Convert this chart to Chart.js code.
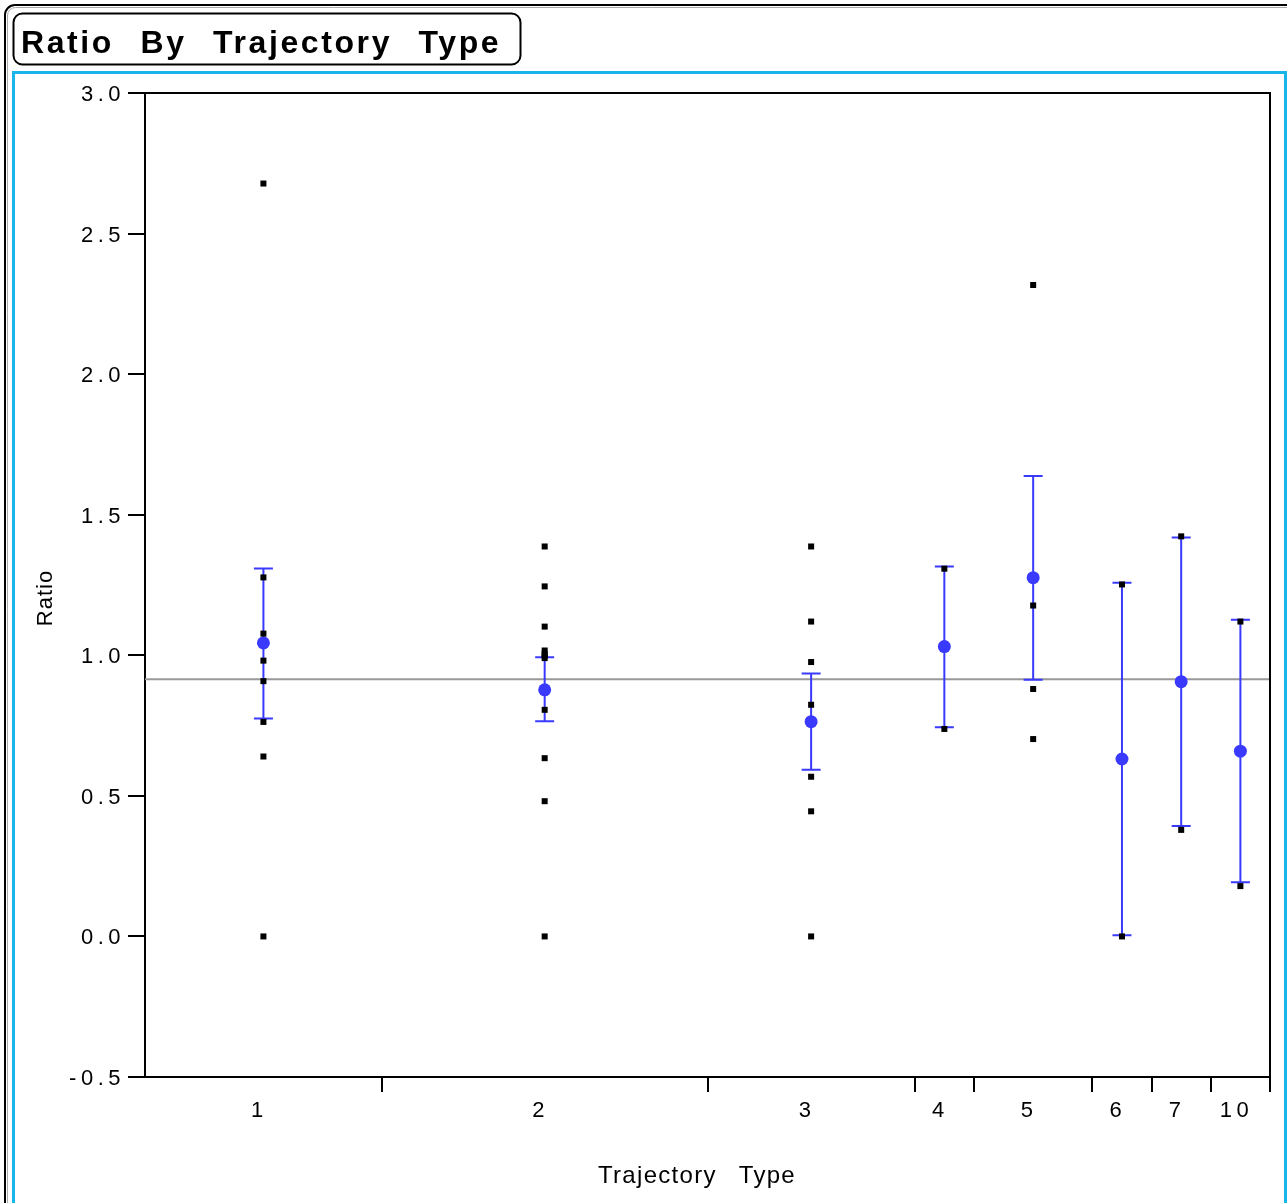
<!DOCTYPE html>
<html>
<head>
<meta charset="utf-8">
<title>Ratio By Trajectory Type</title>
<script src="https://cdn.jsdelivr.net/npm/chart.js@4.4.1/dist/chart.umd.min.js"></script>
<style>
  html, body { margin: 0; padding: 0; background: #fff; }
  canvas { display: block; }
</style>
</head>
<body>
<canvas id="oneway" width="1287" height="1203"></canvas>
<script>
// Trajectory Type groups
const categories = ['1', '2', '3', '4', '5', '6', '7', '10'];

// Ratio values for each trajectory type
const ratioValues = [
    [2.678, 1.277, 1.077, 0.981, 0.908, 0.763, 0.640, 0.0],
    [1.387, 1.245, 1.102, 1.017, 1.005, 0.998, 0.990, 0.806, 0.634, 0.481, 0.0],
    [1.387, 1.120, 0.976, 0.824, 0.568, 0.445, 0.0],
    [1.308, 0.738],
    [2.317, 1.177, 0.880, 0.702],
    [1.252, 0.0],
    [1.423, 0.379],
    [1.120, 0.179]
];

// group means and mean error bars
const groupMeans = [1.044, 0.877, 0.764, 1.031, 1.276, 0.631, 0.906, 0.659];
const errUpper = [1.309, 0.993, 0.935, 1.316, 1.638, 1.258, 1.419, 1.126];
const errLower = [0.775, 0.765, 0.593, 0.744, 0.913, 0.004, 0.393, 0.193];
const grandMean = 0.915;

const yTicks = [-0.5, 0.0, 0.5, 1.0, 1.5, 2.0, 2.5, 3.0];

// x axis: each group gets a width proportional to its count
const counts = ratioValues.map(v => v.length);
const edges = [0];
counts.forEach(n => edges.push(edges[edges.length - 1] + n));
const centers = counts.map((n, i) => edges[i] + n / 2);
const total = edges[edges.length - 1];
const tickEdges = edges.slice(1);

const meanColor = '#3a3aff';
const fontFamily = '"Liberation Sans", Arial, Helvetica, sans-serif';

Chart.defaults.font.family = fontFamily;
Chart.defaults.color = '#000';

const pagePlugin = {
    id: 'pageFrame',
    beforeDraw(chart) {
        const ctx = chart.ctx;
        ctx.save();
        // outer frame
        ctx.strokeStyle = '#000';
        ctx.lineWidth = 2;
        ctx.beginPath();
        ctx.moveTo(5, 1210);
        ctx.lineTo(5, 15);
        ctx.arcTo(5, 5, 15, 5, 10);
        ctx.lineTo(1290, 5);
        ctx.stroke();
        ctx.strokeStyle = '#aaa';
        ctx.lineWidth = 1;
        ctx.beginPath();
        ctx.moveTo(7.5, 1210);
        ctx.lineTo(7.5, 15);
        ctx.arcTo(7.5, 7.5, 15, 7.5, 8);
        ctx.lineTo(1290, 7.5);
        ctx.stroke();

        // title box
        ctx.strokeStyle = '#000';
        ctx.lineWidth = 2;
        ctx.beginPath();
        ctx.roundRect(13.5, 13.5, 507, 51, 9);
        ctx.stroke();

        // cyan outline box
        ctx.strokeStyle = '#19b5ea';
        ctx.lineWidth = 3;
        ctx.strokeRect(13.5, 72.5, 1272, 1200);

        // title
        ctx.fillStyle = '#000';
        ctx.font = 'bold 32px ' + fontFamily;
        ctx.letterSpacing = '2.6px';
        ctx.wordSpacing = '15px';
        ctx.textAlign = 'left';
        ctx.textBaseline = 'alphabetic';
        ctx.fillText('Ratio By Trajectory Type', 21, 53);
        ctx.restore();

        // tick labels are widely spaced
        ctx.letterSpacing = '4.5px';
    },
    afterDraw(chart) {
        const ctx = chart.ctx;
        const area = chart.chartArea;
        ctx.save();
        ctx.letterSpacing = '0px';
        // top and right edges of the plot frame
        ctx.strokeStyle = '#000';
        ctx.lineWidth = 2;
        ctx.beginPath();
        ctx.moveTo(area.left, area.top);
        ctx.lineTo(area.right, area.top);
        ctx.lineTo(area.right, area.bottom);
        ctx.stroke();

        // axis titles
        ctx.fillStyle = '#000';
        ctx.font = '24px ' + fontFamily;
        ctx.letterSpacing = '1.3px';
        ctx.wordSpacing = '14px';
        ctx.textAlign = 'center';
        ctx.textBaseline = 'alphabetic';
        ctx.fillText('Trajectory Type', 697, 1183);

        ctx.font = '22px ' + fontFamily;
        ctx.letterSpacing = '1px';
        ctx.translate(52, 598);
        ctx.rotate(-Math.PI / 2);
        ctx.fillText('Ratio', 0, 0);
        ctx.restore();
    }
};

const errorBars = {
    id: 'errorBars',
    beforeDatasetDraw(chart, args) {
        if (args.index !== 1) return;
        const ctx = chart.ctx;
        const x = chart.scales.x;
        const y = chart.scales.y;
        ctx.save();
        ctx.strokeStyle = meanColor;
        ctx.lineWidth = 2;
        centers.forEach((c, i) => {
            const px = x.getPixelForValue(c);
            const top = y.getPixelForValue(errUpper[i]);
            const bot = y.getPixelForValue(errLower[i]);
            ctx.beginPath();
            ctx.moveTo(px, top);
            ctx.lineTo(px, bot);
            ctx.moveTo(px - 9.5, top);
            ctx.lineTo(px + 9.5, top);
            ctx.moveTo(px - 9.5, bot);
            ctx.lineTo(px + 9.5, bot);
            ctx.stroke();
        });
        ctx.restore();
    }
};

const pointData = ratioValues.flatMap((vals, i) => vals.map(v => ({ x: centers[i], y: v })));
const meanData = groupMeans.map((m, i) => ({ x: centers[i], y: m }));

new Chart(document.getElementById('oneway'), {
    type: 'scatter',
    data: {
        datasets: [{
            label: 'Ratio',
            data: pointData,
            pointStyle: 'rect',
            pointRadius: 4.25,
            pointBorderWidth: 0,
            backgroundColor: '#000',
            borderColor: '#000',
            order: 0
        }, {
            label: 'Mean',
            data: meanData,
            pointStyle: 'circle',
            pointRadius: 6.5,
            pointBorderWidth: 0,
            backgroundColor: meanColor,
            borderColor: meanColor,
            order: 1
        }, {
            label: 'Grand mean',
            data: [{ x: 0, y: grandMean }, { x: total, y: grandMean }],
            showLine: true,
            pointRadius: 0,
            borderColor: '#999',
            borderWidth: 2,
            order: 2
        }]
    },
    options: {
        responsive: false,
        animation: false,
        events: [],
        layout: { padding: { left: 0, right: 17, top: 93, bottom: 0 } },
        plugins: {
            legend: { display: false },
            tooltip: { enabled: false }
        },
        scales: {
            x: {
                type: 'linear',
                min: 0,
                max: total,
                afterBuildTicks: scale => {
                    scale.ticks = edges.slice(1).concat(centers)
                        .sort((a, b) => a - b)
                        .map(v => ({ value: v }));
                },
                afterFit: scale => { scale.height = 126; },
                grid: {
                    drawOnChartArea: false,
                    tickLength: 15,
                    lineWidth: 2,
                    tickColor: ctx => (ctx.tick && tickEdges.includes(ctx.tick.value)) ? '#000' : 'rgba(0,0,0,0)'
                },
                border: { display: true, color: '#000', width: 2 },
                ticks: {
                    autoSkip: false,
                    maxRotation: 0,
                    padding: 6,
                    labelOffset: -4,
                    font: { size: 22 },
                    color: '#000',
                    callback: value => {
                        const i = centers.indexOf(value);
                        return i >= 0 ? categories[i] : '';
                    }
                }
            },
            y: {
                type: 'linear',
                min: -0.5,
                max: 3.0,
                afterBuildTicks: scale => {
                    scale.ticks = yTicks.map(v => ({ value: v }));
                },
                afterFit: scale => { scale.width = 145; },
                grid: {
                    drawOnChartArea: false,
                    tickLength: 17,
                    lineWidth: 2,
                    color: '#000'
                },
                border: { display: true, color: '#000', width: 2 },
                ticks: {
                    padding: 3,
                    labelOffset: 2,
                    font: { size: 22 },
                    color: '#000',
                    callback: value => value.toFixed(1)
                }
            }
        }
    },
    plugins: [pagePlugin, errorBars]
});
</script>
</body>
</html>
